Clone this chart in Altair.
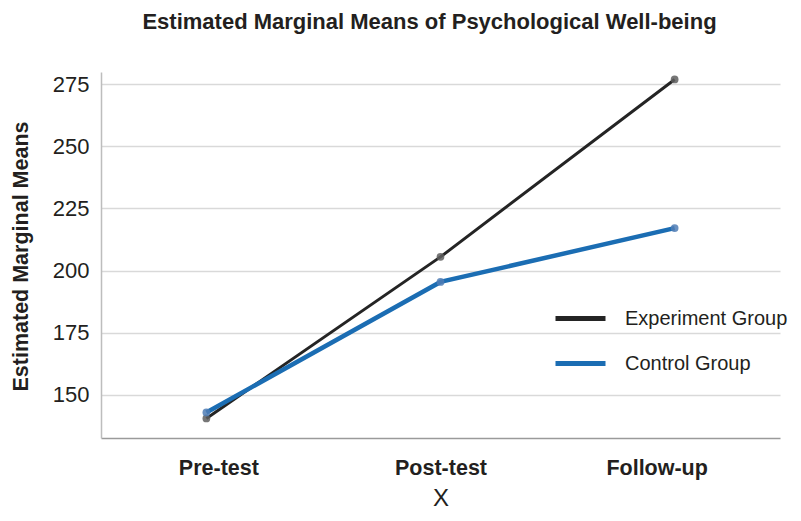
import altair as alt
import pandas as pd

times = ["Pre-test", "Post-test", "Follow-up"]
groups = ["Experiment Group", "Control Group"]
experiment = [140.4, 205.5, 277.0]
control = [142.8, 195.4, 217.1]
y_ticks = [150, 175, 200, 225, 250, 275]

rows = []
for g, vals in zip(groups, [experiment, control]):
    for t, v in zip(times, vals):
        rows.append({"time": t, "group": g, "mean": v})
df = pd.DataFrame(rows)

FONT = "Liberation Sans"

x_enc = alt.X(
    "time:N",
    sort=times,
    scale=alt.Scale(type="point", padding=0.45),
    axis=alt.Axis(
        title="X",
        labelAngle=0,
        labelFontWeight="bold",
        labelFontSize=21.5,
        labelColor="#231f20",
        labelPadding=19,
        labelOffset={
            "condition": [
                {"test": "datum.value === 'Pre-test'", "value": 12},
                {"test": "datum.value === 'Follow-up'", "value": -18},
            ],
            "value": 0,
        },
        ticks=False,
        grid=False,
        domainColor="#9a9a9a",
        domainWidth=1.5,
        titleFontSize=24,
        titleFontWeight="normal",
        titleColor="#231f20",
        titleBaseline="alphabetic",
        titleY=67,
    ),
)

y_enc = alt.Y(
    "mean:Q",
    scale=alt.Scale(domain=[132.5, 280], nice=False, zero=False),
    axis=alt.Axis(
        title="Estimated Marginal Means",
        values=y_ticks,
        labelFontSize=22,
        labelColor="#231f20",
        labelPadding=12,
        ticks=False,
        grid=True,
        gridColor="#d9d9d9",
        gridWidth=1.5,
        domainColor="#bdbdbd",
        domainWidth=1.5,
        titleFontSize=21.5,
        titleFontWeight="bold",
        titleColor="#231f20",
        titleAngle=270,
        titleBaseline="alphabetic",
        titleX=-74,
        titleY=184,
    ),
)

color_enc = alt.Color(
    "group:N",
    sort=groups,
    scale=alt.Scale(domain=groups, range=["#242424", "#1b6db3"]),
    legend=alt.Legend(
        title=None,
        orient="none",
        legendX=452,
        legendY=219,
        symbolType="stroke",
        symbolSize=2500,
        symbolStrokeWidth=5,
        labelFontSize=20,
        labelColor="#231f20",
        labelOffset=17,
        labelLimit=0,
        rowPadding=7,
        padding=0,
    ),
)

base = alt.Chart(df)

line_exp = base.transform_filter(alt.datum.group == groups[0]).mark_line(
    strokeWidth=3
).encode(x=x_enc, y=y_enc, color=color_enc)

line_ctrl = base.transform_filter(alt.datum.group == groups[1]).mark_line(
    strokeWidth=4.5
).encode(x=x_enc, y=y_enc, color=color_enc)

points = base.mark_circle(size=60, opacity=0.85).encode(
    x=alt.X("time:N", sort=times),
    y="mean:Q",
    fill=alt.Fill(
        "group:N",
        scale=alt.Scale(domain=groups, range=["#5e5e5e", "#4f7db5"]),
        legend=None,
    ),
)

chart = (
    alt.layer(line_exp, line_ctrl, points)
    .properties(
        width=679,
        height=366,
        autosize=alt.AutoSizeParams(type="none"),
        padding={"left": 93, "top": 64, "right": 13, "bottom": 75},
        title=alt.TitleParams(
            "Estimated Marginal Means of Psychological Well-being",
            fontSize=22,
            fontWeight="bold",
            color="#231f20",
            anchor="middle",
            frame="group",
            baseline="alphabetic",
            offset=21,
            dx=-11,
        ),
    )
    .configure(font=FONT)
    .configure_view(stroke=None)
)

chart.save("out.html", embed_options={"renderer": "svg", "actions": False})
